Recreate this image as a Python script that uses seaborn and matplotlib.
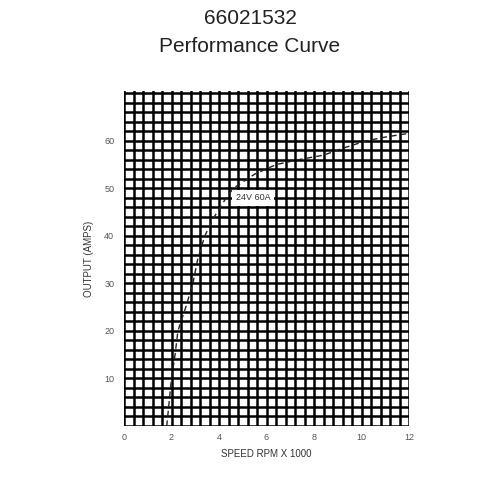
import numpy as np
import pandas as pd
import matplotlib
matplotlib.use("Agg")
import matplotlib.pyplot as plt
import seaborn as sns

speed = [1.8, 1.9, 2.0, 2.15, 2.27, 2.6, 2.9, 3.1, 3.4, 3.8, 4.3, 4.6, 5.5, 6.4, 7.3, 8.4, 9.3, 10.2, 11.0, 12.0]
amps = [0, 5, 10, 15, 20, 25, 30, 35, 40, 44, 48, 50, 53, 55, 56, 57, 58.6, 60, 60.8, 61.6]
x_ticks = [0, 2, 4, 6, 8, 10, 12]
y_ticks = [10, 20, 30, 40, 50, 60]
curve_label = "24V 60A"

df = pd.DataFrame({"speed": speed, "amps": amps})

sns.set_theme(style="white")
plt.rcParams["font.family"] = ["Liberation Sans", "DejaVu Sans"]

fig = plt.figure(figsize=(5, 5), dpi=100)
ax = fig.add_axes([0.248, 0.148, 0.570, 0.670])

ax.set_xlim(0, 12)
ax.set_ylim(0, 70.5)
for gx in np.arange(0, 12.01, 0.4):
    ax.axvline(gx, color="black", lw=1.8, zorder=1)
for gy in np.arange(0, 70.6, 2):
    ax.axhline(gy, color="black", lw=1.8, zorder=1)

sns.lineplot(data=df, x="speed", y="amps", ax=ax, color="#222222", lw=1.0,
             linestyle=(0, (4, 3)), zorder=3)
ax.text(4.7, 48, curve_label, fontsize=6.5, color="#333333", va="center", ha="left",
        bbox=dict(facecolor="white", edgecolor="none", pad=2.5), zorder=4)

for s in ax.spines.values():
    s.set_visible(False)
ax.set_xticks(x_ticks)
ax.set_yticks(y_ticks)
ax.tick_params(axis="x", length=0, labelsize=6.5, colors="#555555", pad=5)
ax.tick_params(axis="y", length=0, labelsize=6.5, colors="#555555", pad=7)
ax.set_xlabel("SPEED RPM X 1000", fontsize=7, color="#333333", labelpad=5)
ax.set_ylabel("OUTPUT (AMPS)", fontsize=7, color="#333333", labelpad=7)

fig.text(0.5, 0.962, "66021532", ha="center", va="center", fontsize=15, color="#222222")
fig.text(0.5, 0.908, "Performance Curve", ha="center", va="center", fontsize=15, color="#222222")

fig.savefig("out.png", dpi=100, facecolor="white")
